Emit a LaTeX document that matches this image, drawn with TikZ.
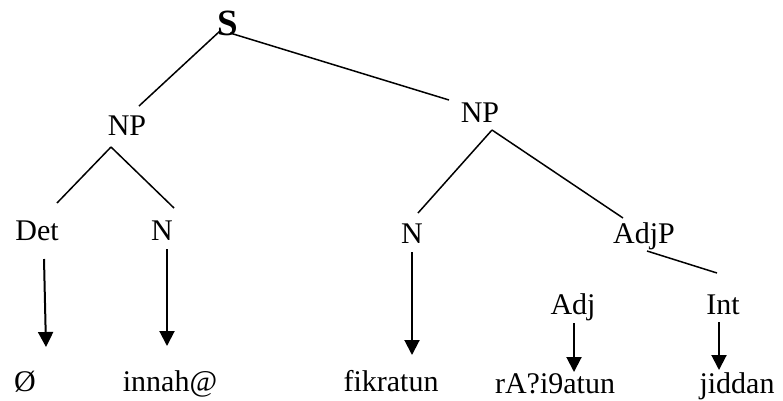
\documentclass[tikz,border=0pt]{standalone}
\usepackage{fontspec}
\setmainfont{Liberation Serif}
\usetikzlibrary{arrows.meta}
\begin{document}
\begin{tikzpicture}[x=1pt,y=-1pt,
  lbl/.style={anchor=base,inner sep=0pt,font=\fontsize{30}{36}\selectfont},
  branch/.style={line width=1.5pt},
  derive/.style={line width=2pt,-{Triangle[width=15pt,length=15pt]}}]
\useasboundingbox (0,0) rectangle (783,400);

% category labels
\node[lbl,font=\fontsize{37}{44}\selectfont\bfseries] (s) at (228,35) {S};
\node[lbl] (npl) at (127,135) {NP};
\node[lbl] (npr) at (480,122) {NP};
\node[lbl] (det) at (37,240) {Det};
\node[lbl] (nl) at (162,240) {N};
\node[lbl] (nr) at (412,243) {N};
\node[lbl] (adjp) at (644,243) {AdjP};
\node[lbl] (adj) at (573,314) {Adj};
\node[lbl] (int) at (723,314) {Int};

% words
\node[lbl] (w0) at (25,391) {Ø};
\node[lbl] (w1) at (170,391) {innah@};
\node[lbl] (w2) at (391,391) {fikratun};
\node[lbl] (w3) at (555,393) {rA?i9atun};
\node[lbl] (w4) at (737,393) {jiddan};

% branch end points
\coordinate (sA) at (220,31);
\coordinate (sB) at (230,33);
\coordinate (nplT) at (139,106);
\coordinate (nplB) at (111,147);
\coordinate (nprT) at (449,100);
\coordinate (nprB) at (492,130);
\coordinate (detT) at (57,203);
\coordinate (nlT) at (174,208);
\coordinate (nrT) at (418,213);
\coordinate (adjpT) at (623,218);
\coordinate (adjpB) at (647,251);
\coordinate (intT) at (717,273);

% arrow end points
\coordinate (detB) at (44,259);
\coordinate (w0T) at (46,347);
\coordinate (nlB) at (167,249);
\coordinate (w1T) at (167,346);
\coordinate (nrB) at (412,252);
\coordinate (w2T) at (412,355);
\coordinate (adjB) at (574,323);
\coordinate (w3T) at (574,372);
\coordinate (intB) at (719,322);
\coordinate (w4T) at (719,370);

% tree branches
\draw[branch] (sA) -- (nplT);
\draw[branch] (sB) -- (nprT);
\draw[branch] (nplB) -- (detT);
\draw[branch] (nplB) -- (nlT);
\draw[branch] (nprB) -- (nrT);
\draw[branch] (nprB) -- (adjpT);
\draw[branch] (adjpB) -- (intT);

% lexical insertion arrows
\draw[derive] (detB) -- (w0T);
\draw[derive] (nlB) -- (w1T);
\draw[derive] (nrB) -- (w2T);
\draw[derive] (adjB) -- (w3T);
\draw[derive] (intB) -- (w4T);
\end{tikzpicture}
\end{document}
